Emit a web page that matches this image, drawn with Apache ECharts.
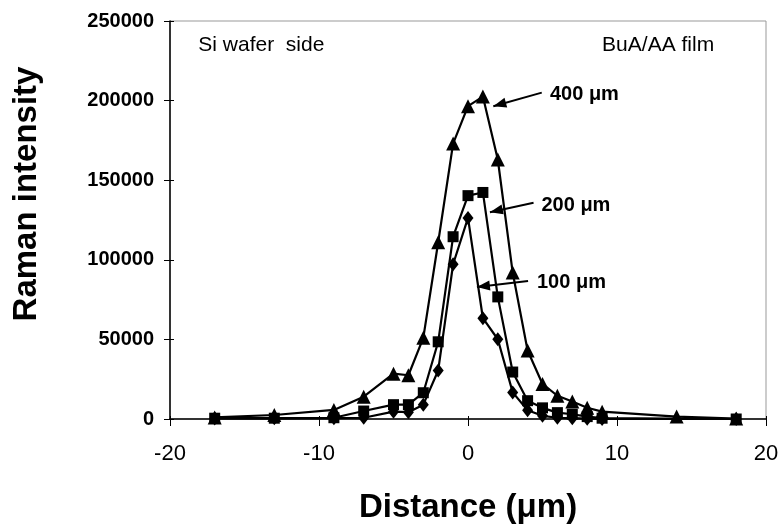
<!DOCTYPE html>
<html>
<head>
<meta charset="utf-8">
<script src="https://cdn.jsdelivr.net/npm/echarts@6/dist/echarts.min.js"></script>
<style>
  html, body { margin: 0; padding: 0; background: #fff; }
  #chart { width: 783px; height: 528px; }
</style>
</head>
<body>
<div id="chart"></div>
<script>
var xTri = [-17, -13, -9, -7, -5, -4, -3, -2, -1, 0, 1, 2, 3, 4, 5, 6, 7, 8, 9, 14, 18];
var yTri = [1000, 2500, 5700, 14000, 28500, 27500, 51000, 111000, 173000, 196500, 202500, 163000, 92000, 43000, 22000, 14600, 11000, 7100, 4600, 1500, 300];

var xSq = [-17, -13, -9, -7, -5, -4, -3, -2, -1, 0, 1, 2, 3, 4, 5, 6, 7, 8, 9, 18];
var ySq = [500, 500, 800, 5000, 9000, 9000, 16500, 48500, 114500, 140300, 142300, 76700, 29500, 11500, 7000, 4000, 3000, 1500, 500, 0];

var xDia = [-17, -13, -9, -7, -5, -4, -3, -2, -1, 0, 1, 2, 3, 4, 5, 6, 7, 8, 9, 18];
var yDia = [300, 400, 500, 800, 4600, 4300, 9000, 30500, 97200, 126300, 63300, 50100, 16700, 5500, 2000, 800, 500, 200, 0, 0];

var seriesNames = ['400 \u03bcm', '200 \u03bcm', '100 \u03bcm'];
var xTicks = [-20, -10, 0, 10, 20];
var yTicks = [0, 50000, 100000, 150000, 200000, 250000];

// annotation layout, in data units: [textX, textY, arrowFromX, arrowFromY, arrowToX, arrowToY]
var notes = [
    [5.5, 204100, 4.95, 205000, 1.7, 196500],
    [4.93, 134400, 4.4, 135800, 1.47, 129900],
    [4.63, 86000, 4.03, 86700, 0.6, 82900]
];

function pairs(xs, ys) { return xs.map(function (x, i) { return [x, ys[i]]; }); }

var chart = echarts.init(document.getElementById('chart'));
var font = 'Liberation Sans, Arial, sans-serif';

function line(name, xs, ys, symbol, size) {
    return {
        name: name, type: 'line', data: pairs(xs, ys),
        symbol: symbol, symbolSize: size, showAllSymbol: true,
        lineStyle: { color: '#000', width: 2.2 },
        itemStyle: { color: '#000' },
        animation: false, z: 3
    };
}

var series = [
    line(seriesNames[0], xTri, yTri, 'triangle', 14),
    line(seriesNames[2], xDia, yDia, 'diamond', [11, 14]),
    line(seriesNames[1], xSq, ySq, 'rect', 11)
];

chart.setOption({
    backgroundColor: '#fff',
    animation: false,
    grid: { left: 170, top: 21, width: 596, height: 398, show: true, borderColor: '#999', borderWidth: 1 },
    xAxis: [{
        type: 'value', min: xTicks[0], max: xTicks[xTicks.length - 1], interval: 10,
        axisLine: { onZero: false, lineStyle: { color: '#000', width: 1.5 } },
        axisTick: { length: 7, lineStyle: { color: '#000' } },
        splitLine: { show: false },
        axisLabel: { color: '#000', fontFamily: font, fontSize: 22, margin: 24 }
    }, {
        type: 'value', position: 'bottom', min: xTicks[0], max: xTicks[xTicks.length - 1], interval: 10,
        axisLine: { show: false, onZero: false }, axisLabel: { show: false }, splitLine: { show: false },
        axisTick: { inside: true, length: 3, lineStyle: { color: '#000' } }
    }],
    yAxis: [{
        type: 'value', min: yTicks[0], max: yTicks[yTicks.length - 1], interval: 50000,
        axisLine: { show: true, onZero: false, lineStyle: { color: '#000', width: 1.5 } },
        axisTick: { show: true, length: 6, lineStyle: { color: '#000' } },
        splitLine: { show: false },
        axisLabel: { color: '#000', fontFamily: font, fontSize: 20, fontWeight: 'bold', margin: 16,
            formatter: function (v) { return String(v); } }
    }, {
        type: 'value', position: 'left', min: yTicks[0], max: yTicks[yTicks.length - 1], interval: 50000,
        axisLine: { show: false, onZero: false }, axisLabel: { show: false }, splitLine: { show: false },
        axisTick: { show: true, inside: true, length: 4, lineStyle: { color: '#000' } }
    }],
    series: series
});

var g = [];
notes.forEach(function (n, i) {
    var t = chart.convertToPixel({ gridIndex: 0 }, [n[0], n[1]]);
    var a = chart.convertToPixel({ gridIndex: 0 }, [n[2], n[3]]);
    var b = chart.convertToPixel({ gridIndex: 0 }, [n[4], n[5]]);
    g.push({ type: 'text', x: t[0], y: t[1], z: 10,
        style: { text: seriesNames[i], fill: '#000', font: 'bold 20px ' + font, textAlign: 'left', textVerticalAlign: 'middle' } });
    g.push({ type: 'line', z: 10, shape: { x1: a[0], y1: a[1], x2: b[0], y2: b[1] }, style: { stroke: '#000', lineWidth: 2 } });
    var ang = Math.atan2(b[1] - a[1], b[0] - a[0]), L = 13, W = 5;
    var bx = b[0] - L * Math.cos(ang), by = b[1] - L * Math.sin(ang);
    g.push({ type: 'polygon', z: 10, shape: { points: [
        [b[0], b[1]],
        [bx + W * Math.sin(ang), by - W * Math.cos(ang)],
        [bx - W * Math.sin(ang), by + W * Math.cos(ang)]
    ] }, style: { fill: '#000' } });
});

var c1 = chart.convertToPixel({ gridIndex: 0 }, [-18.1, 234900]);
var c2 = chart.convertToPixel({ gridIndex: 0 }, [9.0, 234900]);
g.push({ type: 'text', x: c1[0], y: c1[1], style: { text: 'Si wafer  side', fill: '#000', font: '21px ' + font, textVerticalAlign: 'middle' } });
g.push({ type: 'text', x: c2[0], y: c2[1], style: { text: 'BuA/AA film', fill: '#000', font: '21px ' + font, textVerticalAlign: 'middle' } });
g.push({ type: 'text', x: 27, y: 194, rotation: Math.PI / 2,
    style: { text: 'Raman intensity', fill: '#000', font: 'bold 33px ' + font, textAlign: 'center', textVerticalAlign: 'middle' } });
g.push({ type: 'text', x: 468, y: 508,
    style: { text: 'Distance (\u03bcm)', fill: '#000', font: 'bold 33px ' + font, textAlign: 'center', textVerticalAlign: 'middle' } });

chart.setOption({ graphic: g });
</script>
</body>
</html>
